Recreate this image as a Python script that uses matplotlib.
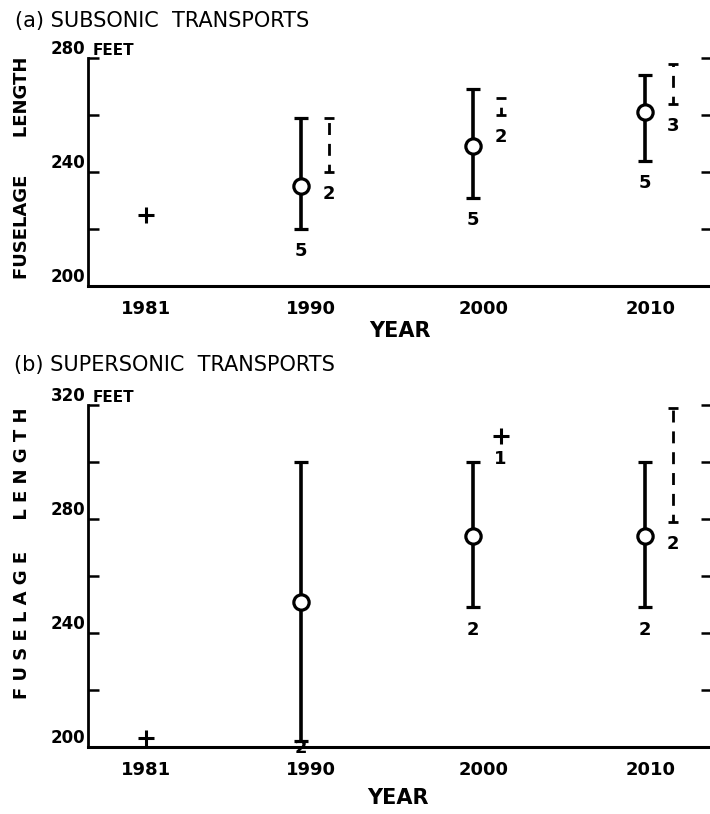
import numpy as np
import matplotlib.pyplot as plt
from matplotlib.ticker import MultipleLocator
from matplotlib.transforms import ScaledTranslation

plt.rcParams['font.family'] = ['DejaVu Sans']

# Años y datos
years = [1981, 1990, 2000, 2010]
year_labels = ['1981', '1990', '2000', '2010']
bar_years = [1990, 2000, 2010]

# (a) subsónicos
sub_1981 = 225
sub_mean = [235, 249, 261]
sub_low = [220, 231, 244]
sub_high = [259, 269, 274]
sub_n = [5, 5, 5]
sub_alt_years = [1990, 2000, 2010]
sub_alt_low = [240, 260, 264]
sub_alt_high = [259, 266, 278]
sub_alt_n = [2, 2, 3]

# (b) supersónicos
sup_1981 = 203
sup_mean = [251, 274, 274]
sup_low = [202, 249, 249]
sup_high = [300, 300, 300]
sup_n = [2, 2, 2]
sup_single_years = [2000]
sup_single_vals = [309]
sup_single_n = [1]
sup_alt_years = [2010]
sup_alt_low = [279]
sup_alt_high = [319]
sup_alt_n = [2]

ALT_SHIFT = 1.6   # desplazamiento de las barras punteadas (años)
LBL = dict(fontweight='bold', fontsize=13, ha='center', va='center')


def count_label(ax, x, y, n):
    # si la barra llega casi al eje, la etiqueta queda pegada encima del eje
    dy = -16 if y - ax.get_ylim()[0] > 5 else -5
    ax.annotate(str(n), (x, y), xytext=(0, dy), textcoords='offset points', **LBL)


def panel(ax, ymin, ymax, p1981, mean, low, high, n,
          alt_years, alt_low, alt_high, alt_n, ylabel, ylabel_y):
    ax.set_xlim(1977.6, 2013.9)
    ax.set_ylim(ymin, ymax)

    mean = np.array(mean)
    low = np.array(low)
    high = np.array(high)

    # Barras sólidas con círculo
    ax.errorbar(bar_years, mean, yerr=[mean - low, high - mean], fmt='o',
                mfc='white', mec='k', ms=11, mew=2.3, ecolor='k',
                elinewidth=2.6, capsize=5, capthick=2.2, zorder=3)
    for x, lo, k in zip(bar_years, low, n):
        count_label(ax, x, lo, k)

    # Barras punteadas
    alo = np.array(alt_low)
    ahi = np.array(alt_high)
    ax_x = np.array(alt_years) + ALT_SHIFT
    mid = (alo + ahi) / 2
    eb = ax.errorbar(ax_x, mid, yerr=(ahi - alo) / 2, fmt='none', ecolor='k',
                     elinewidth=2.0, capsize=3.5, capthick=2.0)
    eb[2][0].set_linestyle((1.5, (4.3, 3.2)))
    for x, lo, k in zip(ax_x, alo, alt_n):
        count_label(ax, x, lo, k)

    # Punto de 1981
    ax.plot([years[0]], [p1981], marker='+', ms=12, mew=2.2, color='k', ls='none')

    ax.spines['top'].set_visible(False)
    ax.spines['right'].set_visible(False)
    ax.spines['left'].set_linewidth(2)
    ax.spines['bottom'].set_linewidth(2.2)

    ax.yaxis.set_major_locator(MultipleLocator(40))
    ax.yaxis.set_minor_locator(MultipleLocator(20))
    ax.tick_params(axis='y', which='both', left=True, right=True, direction='in',
                   length=8, width=1.8, labelsize=12, pad=2)
    for lbl in ax.get_yticklabels():
        lbl.set_fontweight('bold')
        lbl.set_va('bottom')

    ax.set_xticks(years)
    ax.set_xticklabels(year_labels, fontweight='bold', fontsize=13)
    ax.tick_params(axis='x', length=0, pad=10)
    nudges = [0, 10, 10, 6]
    for lbl, dx in zip(ax.get_xticklabels(), nudges):
        lbl.set_transform(lbl.get_transform() +
                          ScaledTranslation(dx / 100, 0, ax.figure.dpi_scale_trans))

    ax.text(0.008, 1.0, 'FEET', transform=ax.transAxes, ha='left', va='bottom',
            fontweight='bold', fontsize=11)
    ax.text(-0.106, ylabel_y, ylabel, transform=ax.transAxes,
            rotation=90, ha='center', va='center', fontweight='bold', fontsize=13)


fig = plt.figure(figsize=(7.1, 8.14), dpi=100)
ax1 = fig.add_axes([0.124, 0.6486, 0.879, 0.280])
ax2 = fig.add_axes([0.124, 0.0823, 0.879, 0.420])

panel(ax1, 200, 280, sub_1981, sub_mean, sub_low, sub_high, sub_n,
      sub_alt_years, sub_alt_low, sub_alt_high, sub_alt_n,
      'FUSELAGE      LENGTH', 0.52)
panel(ax2, 200, 320, sup_1981, sup_mean, sup_low, sup_high, sup_n,
      sup_alt_years, sup_alt_low, sup_alt_high, sup_alt_n,
      'F U S E L A G E     L E N G T H', 0.567)

# Punto aislado de 2000 en (b)
ax2.plot(np.array(sup_single_years) + ALT_SHIFT, sup_single_vals, marker='+',
         ms=12, mew=2.2, color='k', ls='none')
for x, v, k in zip(sup_single_years, sup_single_vals, sup_single_n):
    count_label(ax2, x + ALT_SHIFT, v, k)

fig.text(15 / 710, 1 - 21 / 814, '(a) SUBSONIC  TRANSPORTS', ha='left',
         va='center', fontsize=15)
fig.text(14 / 710, 1 - 365 / 814, '(b) SUPERSONIC  TRANSPORTS', ha='left',
         va='center', fontsize=15)
fig.text(400 / 710, 1 - 331 / 814, 'YEAR', ha='center', va='center',
         fontweight='bold', fontsize=15)
fig.text(398 / 710, 1 - 798 / 814, 'YEAR', ha='center', va='center',
         fontweight='bold', fontsize=15)

fig.savefig('out.png', dpi=100)
